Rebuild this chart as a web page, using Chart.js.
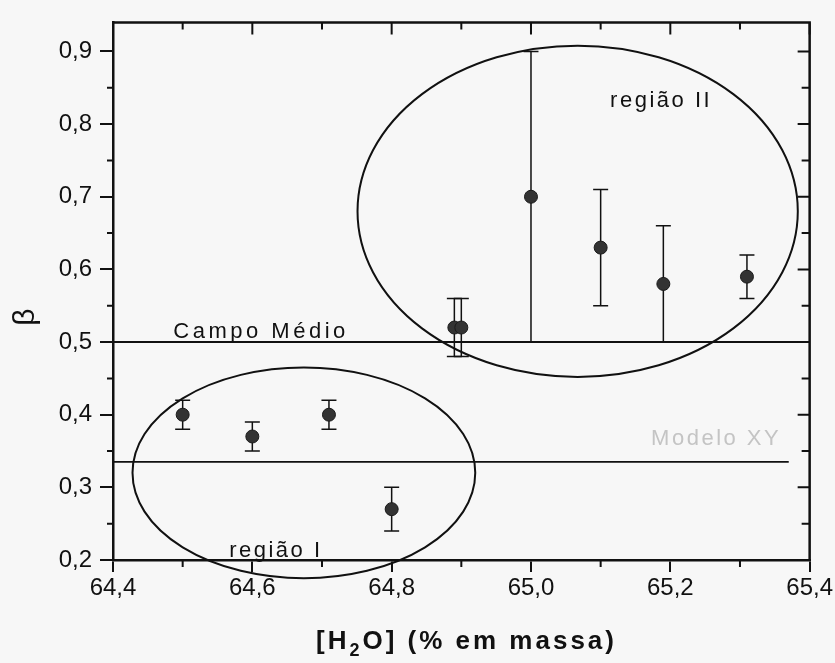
<!DOCTYPE html>
<html>
<head>
<meta charset="utf-8">
<script src="https://cdn.jsdelivr.net/npm/chart.js@4/dist/chart.umd.min.js"></script>
<style>
  html, body { margin: 0; padding: 0; background: #f7f7f7; }
  #wrap { width: 835px; height: 663px; position: relative; }
</style>
</head>
<body>
<div id="wrap"><canvas id="c" width="835" height="663"></canvas></div>
<script>
// Measured beta exponent versus water concentration
const waterContent = [64.50, 64.60, 64.71, 64.80, 64.89, 64.90, 65.00, 65.10, 65.19, 65.31];
const betaValues   = [0.40, 0.37, 0.40, 0.27, 0.52, 0.52, 0.70, 0.63, 0.58, 0.59];
const betaErrors   = [0.02, 0.02, 0.02, 0.03, 0.04, 0.04, 0.20, 0.08, 0.08, 0.03];

// Axis ticks
const xTickValues = [64.4, 64.6, 64.8, 65.0, 65.2, 65.4];
const yTickValues = [0.2, 0.3, 0.4, 0.5, 0.6, 0.7, 0.8, 0.9];

// Theoretical reference values
const meanFieldBeta  = 0.50;
const meanFieldRange = [64.4, 65.4];
const xyModelBeta    = 0.335;
const xyModelRange   = [64.4, 65.37];

// Regions (ellipses) in data units: centre x, centre y, half-width, half-height
const regionOne = [64.674, 0.32, 0.246, 0.145];
const regionTwo = [65.067, 0.68, 0.316, 0.228];

// Text annotations: text, x, y
const annotationTexts = ['região II', 'região I', 'Campo Médio', 'Modelo XY'];
const annotationX     = [65.185, 64.632, 64.61, 65.264];
const annotationY     = [0.832, 0.212, 0.514, 0.367];

const INK = '#111';
const FONT = '"Liberation Sans", Arial, sans-serif';

function fmt(v) { return v.toFixed(1).replace('.', ','); }

// Draws text one character at a time with extra spacing, centred on x.
function spacedText(ctx, text, x, y, spacing) {
  let w = 0;
  const widths = [];
  for (const ch of text) { const cw = ctx.measureText(ch).width; widths.push(cw); w += cw; }
  w += spacing * (widths.length - 1);
  let cx = x - w / 2;
  ctx.textAlign = 'left';
  let i = 0;
  for (const ch of text) { ctx.fillText(ch, cx, y); cx += widths[i++] + spacing; }
}

const decorations = {
  id: 'decorations',
  beforeDatasetsDraw(chart) {
    const { ctx, chartArea: a, scales: { x, y } } = chart;
    ctx.save();
    ctx.strokeStyle = INK;
    ctx.lineWidth = 2;
    // region ellipses
    for (const r of [regionOne, regionTwo]) {
      const cx = x.getPixelForValue(r[0]);
      const cy = y.getPixelForValue(r[1]);
      const rx = Math.abs(x.getPixelForValue(r[0] + r[2]) - cx);
      const ry = Math.abs(y.getPixelForValue(r[1] + r[3]) - cy);
      ctx.beginPath();
      ctx.ellipse(cx, cy, rx, ry, 0, 0, Math.PI * 2);
      ctx.stroke();
    }
    // error bars
    ctx.lineWidth = 1.5;
    for (let i = 0; i < waterContent.length; i++) {
      const px = x.getPixelForValue(waterContent[i]);
      const top = y.getPixelForValue(betaValues[i] + betaErrors[i]);
      const bot = y.getPixelForValue(betaValues[i] - betaErrors[i]);
      ctx.beginPath();
      ctx.moveTo(px, top); ctx.lineTo(px, bot);
      ctx.moveTo(px - 7.5, top); ctx.lineTo(px + 7.5, top);
      ctx.moveTo(px - 7.5, bot); ctx.lineTo(px + 7.5, bot);
      ctx.stroke();
    }
    ctx.restore();
  },
  afterDraw(chart) {
    const { ctx, chartArea: a, scales: { x, y } } = chart;
    ctx.save();
    ctx.strokeStyle = INK;
    // top and right frame
    ctx.lineWidth = 2.5;
    ctx.beginPath();
    ctx.moveTo(a.left, a.top); ctx.lineTo(a.right, a.top); ctx.lineTo(a.right, a.bottom);
    ctx.stroke();
    ctx.lineWidth = 2;
    ctx.beginPath();
    // x ticks every 0.1: outward on bottom, inward on top
    for (let k = 0; k <= 10; k++) {
      const v = 64.4 + k * 0.1;
      const px = x.getPixelForValue(v);
      const major = k % 2 === 0;
      const len = major ? 12 : 7;
      ctx.moveTo(px, a.top); ctx.lineTo(px, a.top + len);
      if (!major) { ctx.moveTo(px, a.bottom); ctx.lineTo(px, a.bottom + len); }
    }
    // y ticks every 0.05: outward minors on left, inward on right
    for (let k = 0; k <= 14; k++) {
      const v = 0.2 + k * 0.05;
      const py = y.getPixelForValue(v);
      const major = k % 2 === 0;
      ctx.moveTo(a.right, py); ctx.lineTo(a.right - (major ? 12 : 8), py);
      if (!major) { ctx.moveTo(a.left, py); ctx.lineTo(a.left - 6, py); }
    }
    ctx.stroke();

    // annotation texts
    ctx.textBaseline = 'middle';
    for (let i = 0; i < annotationTexts.length; i++) {
      const px = x.getPixelForValue(annotationX[i]);
      const py = y.getPixelForValue(annotationY[i]);
      const isModel = i === 3;
      ctx.fillStyle = isModel ? '#c4c4c4' : INK;
      ctx.font = '22px ' + FONT;
      spacedText(ctx, annotationTexts[i], px, py, i === 2 ? 3.5 : 2.5);
    }

    // y-axis title (beta), rotated
    ctx.fillStyle = INK;
    ctx.save();
    ctx.translate(26, 317);
    ctx.rotate(-Math.PI / 2);
    ctx.font = '30px ' + FONT;
    ctx.textAlign = 'center';
    ctx.textBaseline = 'middle';
    ctx.fillText('β', 0, 0);
    ctx.restore();

    // x-axis title with subscript
    const parts = [
      { t: '[H', f: 'bold 26px ' + FONT, dy: 0 },
      { t: '2', f: 'bold 18px ' + FONT, dy: 7 },
      { t: 'O] (% em massa)', f: 'bold 26px ' + FONT, dy: 0 }
    ];
    const sp = 3;
    let total = 0;
    const chars = [];
    for (const p of parts) {
      ctx.font = p.f;
      for (const ch of p.t) {
        const w = ctx.measureText(ch).width;
        chars.push({ ch, w, f: p.f, dy: p.dy });
        total += w + sp;
      }
    }
    total -= sp;
    let cx = 465 - total / 2;
    ctx.textAlign = 'left';
    ctx.textBaseline = 'alphabetic';
    for (const c of chars) {
      ctx.font = c.f;
      ctx.fillText(c.ch, cx, 649 + c.dy);
      cx += c.w + sp;
    }
    ctx.restore();
  }
};

const points = waterContent.map((v, i) => ({ x: v, y: betaValues[i] }));

new Chart(document.getElementById('c'), {
  type: 'scatter',
  data: {
    datasets: [
      {
        label: 'Campo Médio',
        type: 'line',
        data: meanFieldRange.map(v => ({ x: v, y: meanFieldBeta })),
        borderColor: INK, borderWidth: 2, pointRadius: 0, order: 3
      },
      {
        label: 'Modelo XY',
        type: 'line',
        data: xyModelRange.map(v => ({ x: v, y: xyModelBeta })),
        borderColor: INK, borderWidth: 1.8, pointRadius: 0, order: 2
      },
      {
        label: 'β',
        data: points,
        pointRadius: 6.5,
        pointBackgroundColor: '#333',
        pointBorderColor: '#1a1a1a',
        pointBorderWidth: 1,
        order: 1
      }
    ]
  },
  options: {
    responsive: false,
    animation: false,
    devicePixelRatio: 1,
    layout: { padding: { top: 13, right: 23, left: 0, bottom: 0 } },
    plugins: { legend: { display: false }, tooltip: { enabled: false } },
    scales: {
      x: {
        type: 'linear', min: 64.4, max: 65.4,
        afterBuildTicks: s => { s.ticks = xTickValues.map(v => ({ value: v })); },
        afterFit: s => { s.height = 103; },
        border: { display: true, color: INK, width: 2.5 },
        grid: { drawOnChartArea: false, drawTicks: true, tickLength: 12, color: INK, lineWidth: 2 },
        ticks: { color: INK, font: { family: FONT, size: 24 }, padding: 2, maxRotation: 0, callback: v => fmt(v) }
      },
      y: {
        type: 'linear', min: 0.2, max: 0.94,
        afterBuildTicks: s => { s.ticks = yTickValues.map(v => ({ value: v })); },
        afterFit: s => { s.width = 113; },
        border: { display: true, color: INK, width: 2.5 },
        grid: { drawOnChartArea: false, drawTicks: true, tickLength: 13, color: INK, lineWidth: 2 },
        ticks: { color: INK, font: { family: FONT, size: 24 }, padding: 8, callback: v => fmt(v) }
      }
    }
  },
  plugins: [decorations]
});
</script>
</body>
</html>
